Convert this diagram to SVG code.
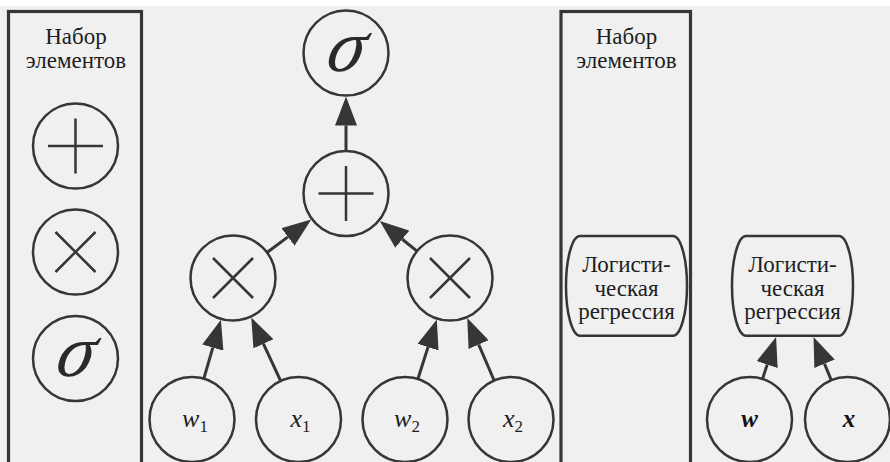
<svg xmlns="http://www.w3.org/2000/svg" width="890" height="462" viewBox="0 0 890 462" font-family="Liberation Serif, DejaVu Serif, serif">
<style>
.bg{fill:#f0f0f0}
.panel{fill:none;stroke:#363636;stroke-width:3.2}
.node{fill:none;stroke:#363636;stroke-width:2.5}
.op{fill:none;stroke:#363636;stroke-width:2.5;stroke-linecap:butt}
.edge{fill:none;stroke:#363636;stroke-width:3}
.t{font-size:23px;fill:#1e1e1e;text-anchor:middle}
.sig{font-style:italic;font-size:74px;fill:#2a2a2a;text-anchor:middle}
.var{font-style:italic;font-size:26px;fill:#1e1e1e;text-anchor:middle}
.sub{font-style:normal;font-size:17px}
.bvar{font-style:italic;font-weight:bold;font-size:25px;fill:#111;text-anchor:middle}
</style>
<defs>
<marker id="arr" markerUnits="userSpaceOnUse" viewBox="0 -11 29 22" refX="0" refY="0" markerWidth="29" markerHeight="22" orient="auto">
<path d="M0,-11 L29,0 L0,11 Z" fill="#363636"/>
</marker>
</defs>
<rect x="0" y="0" width="890" height="462" fill="#ffffff"/>
<rect class="bg" x="0" y="6" width="890" height="456"/>

<g id="palette-left">
<rect class="panel" x="8.5" y="11.5" width="133" height="460"/>
<text class="t" x="76" y="44">Набор</text>
<text class="t" x="76" y="67.5">элементов</text>
</g>
<g id="palette-plus">
<circle class="node" cx="75.5" cy="146" r="42.5"/>
<path class="op" d="M48,146 H103 M75.5,118.5 V173.5"/>
</g>
<g id="palette-times">
<circle class="node" cx="75.5" cy="252" r="42.5"/>
<path class="op" d="M55.5,232 L95.5,272 M95.5,232 L55.5,272"/>
</g>
<g id="palette-sigma">
<circle class="node" cx="75.5" cy="358.5" r="42.5"/>
<text class="sig" transform="translate(71.5,376) skewX(-14)" x="0" y="0">σ</text>
</g>

<g id="sigma">
<circle class="node" cx="346" cy="53" r="42.5"/>
<text class="sig" transform="translate(342,71) skewX(-14)" x="0" y="0">σ</text>
</g>
<g id="plus">
<circle class="node" cx="346" cy="193.5" r="42.5"/>
<path class="op" d="M318.5,193.5 H373.5 M346,166 V221"/>
</g>
<g id="times1">
<circle class="node" cx="233" cy="278" r="42.5"/>
<path class="op" d="M213,258 L253,298 M253,258 L213,298"/>
</g>
<g id="times2">
<circle class="node" cx="450" cy="278" r="42.5"/>
<path class="op" d="M430,258 L470,298 M470,258 L430,298"/>
</g>
<g id="w1">
<circle class="node" cx="192" cy="419.5" r="42.5"/>
<text class="var" x="195" y="427">w<tspan class="sub" dy="5">1</tspan></text>
</g>
<g id="x1">
<circle class="node" cx="298.5" cy="419.5" r="42.5"/>
<text class="var" x="300.5" y="427">x<tspan class="sub" dy="5">1</tspan></text>
</g>
<g id="w2">
<circle class="node" cx="405" cy="419.5" r="42.5"/>
<text class="var" x="407" y="427">w<tspan class="sub" dy="5">2</tspan></text>
</g>
<g id="x2">
<circle class="node" cx="511" cy="419.5" r="42.5"/>
<text class="var" x="513" y="427">x<tspan class="sub" dy="5">2</tspan></text>
</g>

<g id="palette-right">
<rect class="panel" x="561" y="11.5" width="129.5" height="460"/>
<text class="t" x="626.5" y="44">Набор</text>
<text class="t" x="626.5" y="67.5">элементов</text>
</g>
<g id="logreg-palette">
<rect class="node" x="566" y="236" width="121" height="99.7" rx="14" ry="49.8"/>
<text class="t" x="626.5" y="272">Логисти-</text>
<text class="t" x="626.5" y="295.5">ческая</text>
<text class="t" x="626.5" y="319">регрессия</text>
</g>
<g id="logreg">
<rect class="node" x="732" y="236" width="121" height="99.7" rx="14" ry="49.8"/>
<text class="t" x="792.5" y="272">Логисти-</text>
<text class="t" x="792.5" y="295.5">ческая</text>
<text class="t" x="792.5" y="319">регрессия</text>
</g>
<g id="w">
<circle class="node" cx="749.5" cy="419.5" r="42.5"/>
<text class="bvar" x="749.5" y="427">w</text>
</g>
<g id="x">
<circle class="node" cx="847.5" cy="419.5" r="42.5"/>
<text class="bvar" x="849" y="427">x</text>
</g>

<g id="connectors">
<line class="edge" x1="346" y1="151" x2="346" y2="125.5" marker-end="url(#arr)"/>
<line class="edge" x1="267" y1="252.5" x2="287.95" y2="236.9" marker-end="url(#arr)"/>
<line class="edge" x1="417" y1="251.2" x2="402.27" y2="239.22" marker-end="url(#arr)"/>
<line class="edge" x1="203.83" y1="378.68" x2="212.82" y2="347.63" marker-end="url(#arr)"/>
<line class="edge" x1="280.65" y1="380.93" x2="263.45" y2="343.8" marker-end="url(#arr)"/>
<line class="edge" x1="417.88" y1="379" x2="428.03" y2="347.1" marker-end="url(#arr)"/>
<line class="edge" x1="494.17" y1="380.47" x2="478.7" y2="344.58" marker-end="url(#arr)"/>
<line class="edge" x1="762.5" y1="379.1" x2="767.18" y2="364.59" marker-end="url(#arr)"/>
<line class="edge" x1="831.3" y1="380.2" x2="824.55" y2="363.81" marker-end="url(#arr)"/>
</g>
</svg>
